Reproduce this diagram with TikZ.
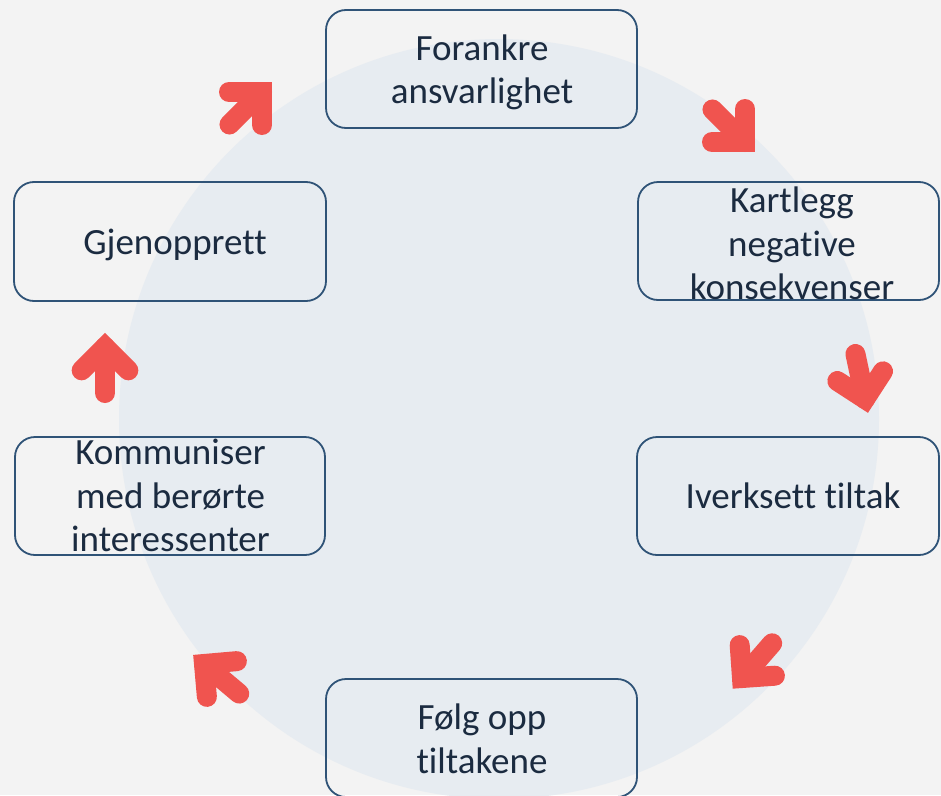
\documentclass[tikz,border=0pt]{standalone}
\usepackage{fontspec}
\setmainfont{Carlito}[Ligatures=NoCommon]
\usetikzlibrary{calc}
\definecolor{bg}{HTML}{F3F3F3}
\definecolor{disc}{HTML}{E7ECF1}
\definecolor{boxline}{HTML}{2F5377}
\definecolor{txt}{HTML}{1B2B40}
\definecolor{arr}{HTML}{F0544F}
\tikzset{
  stepbox/.style={draw=boxline, line width=1.8pt, rounded corners=20pt, inner sep=0pt, fill=none},
  steptext/.style={text=txt, align=center, font=\fontsize{37}{43.5}\selectfont, inner sep=0pt},
  redarrow/.style={draw=arr, line width=20pt, line cap=round, line join=miter},
}
\newcommand\cyclearrow[3]{%
  \coordinate (apex) at (#1,#2);
  \draw[redarrow] ($(apex)+(#3+180:46)$) -- (apex);
  \draw[redarrow] ($(apex)+(#3+135:33)$) -- (apex) -- ($(apex)+(#3-135:33)$);
}
\begin{document}
\begin{tikzpicture}[x=1pt,y=-1pt]
  \clip (0,0) rectangle (941,795);
  \fill[bg] (0,0) rectangle (941,795);
  \fill[disc] (499,419) circle[radius=380];

  % boxes
  \node[stepbox, minimum width=311pt, minimum height=118pt] (b1) at (481.5,69) {};
  \node[stepbox, minimum width=301pt, minimum height=118pt] (b2) at (788.5,241) {};
  \node[stepbox, minimum width=302pt, minimum height=118pt] (b3) at (788,496) {};
  \node[stepbox, minimum width=311pt, minimum height=118pt] (b4) at (481.5,738) {};
  \node[stepbox, minimum width=310pt, minimum height=118pt] (b5) at (170,496) {};
  \node[stepbox, minimum width=312pt, minimum height=119pt] (b6) at (170,241.5) {};

  % texts
  \node[steptext] (t1) at (482,72.5) {Forankre\\ansvarlighet};
  \node[steptext] (t2) at (792,243.5) {Kartlegg\\negative\\konsekvenser};
  \node[steptext] (t3) at (793,496) {Iverksett tiltak};
  \node[steptext] (t4) at (482,739) {Følg opp\\tiltakene};
  \node[steptext] (t5) at (170.5,495.5) {Kommuniser\\med berørte\\interessenter};
  \node[steptext] (t6) at (175,245) {Gjenopprett};

  % arrows
  \cyclearrow{262}{92}{-45}
  \cyclearrow{745}{142}{45}
  \cyclearrow{865}{399}{78}
  \cyclearrow{742}{678}{131}
  \cyclearrow{204}{664}{220}
  \cyclearrow{105}{347}{-90}
\end{tikzpicture}
\end{document}
